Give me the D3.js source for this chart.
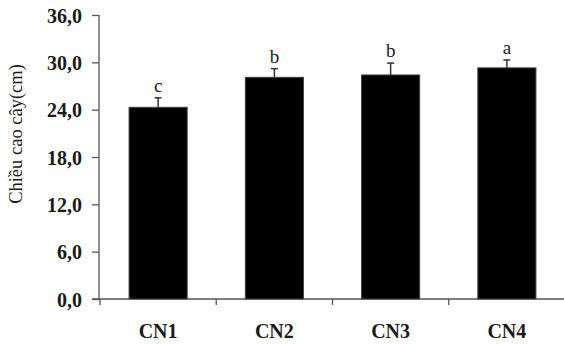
<!DOCTYPE html>
<html>
<head>
<meta charset="utf-8">
<script src="https://cdn.jsdelivr.net/npm/d3@7"></script>
<style>
  html, body { margin: 0; padding: 0; background: #fff; }
  svg { display: block; }
</style>
</head>
<body>
<svg id="chart" width="564" height="344"></svg>
<script>
const categories = ["CN1", "CN2", "CN3", "CN4"];
const values = [24.3, 28.1, 28.4, 29.3];
const errors = [1.2, 1.1, 1.5, 1.0];
const letters = ["c", "b", "b", "a"];
const yTicks = [0, 6, 12, 18, 24, 30, 36];
const yTitle = "Chiều cao cây(cm)";

const svg = d3.select("#chart");
const W = 564, H = 344;
const axisX = 99, baseY = 299, topY = 15;
const serif = "'Liberation Serif', 'Times New Roman', serif";
const axisColor = "#555";

const y = d3.scaleLinear().domain([0, 36]).range([baseY, topY]);
const x = d3.scaleBand().domain(categories).range([100, 565])
  .paddingInner(0.5).paddingOuter(0.25);

const fmt = v => d3.format(".1f")(v).replace(".", ",");

// Y axis
const yAxis = svg.append("g")
  .attr("transform", `translate(${axisX},0)`)
  .call(d3.axisLeft(y).tickValues(yTicks).tickFormat(fmt).tickSize(7).tickPadding(10));
yAxis.select(".domain").attr("stroke", axisColor).attr("stroke-width", 1.3)
  .attr("d", `M0,${topY}V${baseY}`);
yAxis.selectAll(".tick line").attr("stroke", axisColor).attr("stroke-width", 1.3);
yAxis.selectAll(".tick text")
  .attr("font-family", serif).attr("font-size", 20).attr("font-weight", "bold")
  .attr("fill", "#1a1a1a").attr("dy", "0.35em");

// X axis line
svg.append("line")
  .attr("x1", axisX - 7).attr("x2", W).attr("y1", baseY).attr("y2", baseY)
  .attr("stroke", axisColor).attr("stroke-width", 1.3);

// x ticks at band boundaries
const step = x.step();
const gapHalf = (step - x.bandwidth()) / 2;
const bounds = categories.map(c => x(c) - gapHalf);
svg.selectAll(".xtick").data(bounds).enter().append("line")
  .attr("x1", d => d).attr("x2", d => d)
  .attr("y1", baseY).attr("y2", baseY + 6)
  .attr("stroke", axisColor).attr("stroke-width", 1.3);

// Category labels
svg.selectAll(".xlab").data(categories).enter().append("text")
  .attr("x", d => x(d) + x.bandwidth() / 2)
  .attr("y", 338)
  .attr("text-anchor", "middle")
  .attr("font-family", serif).attr("font-size", 20).attr("font-weight", "bold")
  .attr("fill", "#1a1a1a")
  .text(d => d);

// Bars
svg.selectAll(".bar").data(categories).enter().append("rect")
  .attr("x", d => x(d))
  .attr("width", x.bandwidth())
  .attr("y", (d, i) => y(values[i]))
  .attr("height", (d, i) => baseY - y(values[i]))
  .attr("fill", "#000")
  .attr("stroke", "#444").attr("stroke-width", 1);

// Error bars
const eb = svg.append("g");
categories.forEach((c, i) => {
  const cx = x(c) + x.bandwidth() / 2;
  eb.append("line").attr("x1", cx).attr("x2", cx)
    .attr("y1", y(values[i])).attr("y2", y(values[i] + errors[i]))
    .attr("stroke", "#333").attr("stroke-width", 1.5);
  eb.append("line").attr("x1", cx - 3.5).attr("x2", cx + 3.5)
    .attr("y1", y(values[i] + errors[i])).attr("y2", y(values[i] + errors[i]))
    .attr("stroke", "#333").attr("stroke-width", 1.5);
  eb.append("text").attr("x", cx).attr("y", y(values[i] + errors[i]) - 6)
    .attr("text-anchor", "middle")
    .attr("font-family", serif).attr("font-size", 19)
    .attr("fill", "#1a1a1a")
    .text(letters[i]);
});

// Y title
svg.append("text")
  .attr("transform", `translate(22,134) rotate(-90)`)
  .attr("text-anchor", "middle")
  .attr("font-family", serif).attr("font-size", 18.5)
  .attr("fill", "#1a1a1a")
  .text(yTitle);
</script>
</body>
</html>
